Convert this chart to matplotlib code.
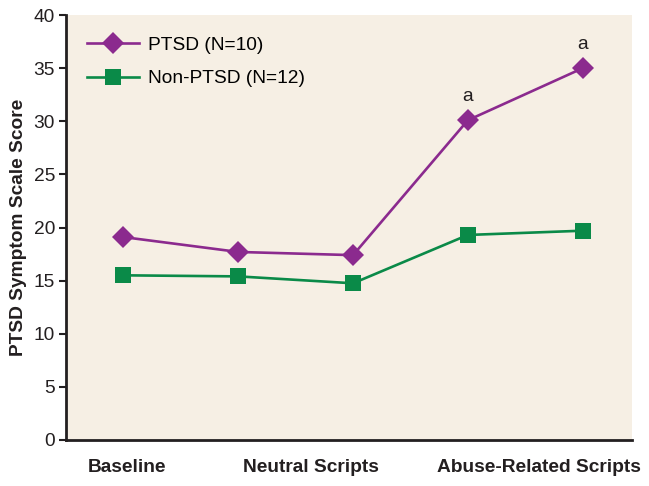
import matplotlib.pyplot as plt

# Data
conditions = [0, 1, 2, 3, 4]
ptsd = [19.1, 17.7, 17.4, 30.1, 35.0]
non_ptsd = [15.5, 15.4, 14.75, 19.3, 19.7]
group_labels = ["Baseline", "Neutral Scripts", "Abuse-Related Scripts"]
label_pos = [0.03, 1.63, 3.62]
sig_points = [3, 4]

plt.rcParams['font.family'] = ['Liberation Sans', 'DejaVu Sans']

purple = '#8B2A8E'
green = '#0A8A48'
dark = '#231F20'
fs = 13.8

fig = plt.figure(figsize=(6.49, 4.86), dpi=100)
ax = fig.add_axes([0.1017, 0.0947, 0.8722, 0.8743])
ax.set_facecolor('#F6EFE4')

ax.plot(conditions, ptsd, color=purple, lw=1.9, marker='D', ms=11.5,
        mec=purple, mew=0, label='PTSD (N=10)')
ax.plot(conditions, non_ptsd, color=green, lw=1.9, marker='s', ms=12,
        mec=green, mew=0, label='Non-PTSD (N=12)')

for i in sig_points:
    ax.annotate('a', (conditions[i], ptsd[i]), xytext=(0, 11),
                textcoords='offset points', ha='center', va='bottom',
                fontsize=fs, color=dark)

ax.set_xlim(-0.5, 4.43)
ax.set_ylim(0, 40)
ax.set_yticks(range(0, 41, 5))
ax.set_xticks(label_pos)
ax.set_xticklabels(group_labels, fontsize=fs, fontweight='bold', color=dark)
ax.tick_params(axis='x', length=0, pad=14)
ax.tick_params(axis='y', labelsize=fs, length=5, width=1.5, color=dark,
               labelcolor=dark, pad=3)
ax.set_ylabel('PTSD Symptom Scale Score', fontsize=fs, fontweight='bold',
              color=dark, labelpad=5)

for s in ['top', 'right']:
    ax.spines[s].set_visible(False)
for s in ['left', 'bottom']:
    ax.spines[s].set_linewidth(2)
    ax.spines[s].set_color(dark)

ax.legend(loc='upper left', frameon=False, fontsize=fs, handlelength=2.7,
          borderaxespad=0.7, labelspacing=0.85, handletextpad=0.5)

fig.savefig('out.png', dpi=100)
